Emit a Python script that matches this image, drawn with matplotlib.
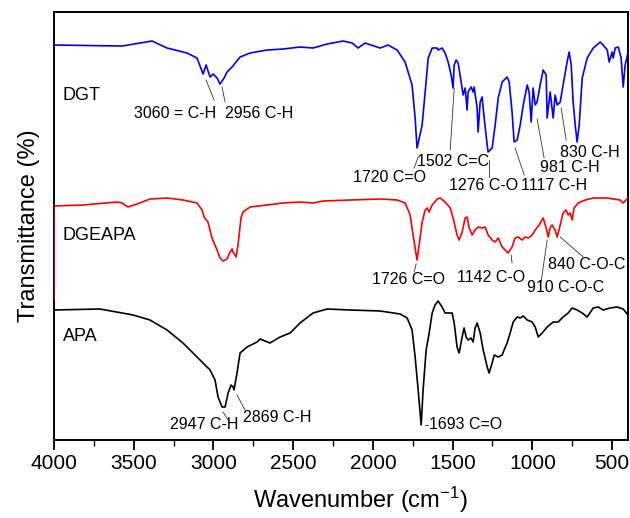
import matplotlib
matplotlib.use('Agg')
import matplotlib.pyplot as plt
from matplotlib.ticker import MultipleLocator

plt.rcParams['font.family'] = ['Liberation Sans', 'DejaVu Sans']
plt.rcParams['mathtext.fontset'] = 'custom'
plt.rcParams['mathtext.rm'] = 'Liberation Sans'
plt.rcParams['mathtext.it'] = 'Liberation Sans'

# DGT spectrum (wavenumber, transmittance a.u., offset)
dgt_wn = [4000, 3573, 3385, 3291, 3166, 3103, 3065, 3046, 3021, 3002, 2977, 2959, 2933, 2915,
          2883, 2833, 2770, 2664, 2563, 2457, 2375, 2287, 2187, 2130, 2093, 2049, 1955, 1905,
          1848, 1798, 1754, 1735, 1723, 1691, 1672, 1653, 1628, 1597, 1591, 1566, 1547, 1528,
          1509, 1497, 1490, 1478, 1465, 1453, 1434, 1421, 1409, 1403, 1384, 1371, 1365, 1346,
          1340, 1327, 1315, 1302, 1283, 1277, 1252, 1233, 1214, 1189, 1158, 1145, 1127, 1114,
          1095, 1076, 1057, 1032, 1020, 1007, 995, 982, 970, 951, 932, 913, 907, 888, 869, 857,
          844, 825, 807, 782, 769, 756, 744, 731, 719, 706, 687, 656, 618, 574, 556, 530, 518,
          499, 493, 480, 461, 443, 430, 418, 400]
dgt_t = [395, 394, 399, 392, 387, 382, 366, 375, 363, 366, 362, 356, 362, 368,
         373, 383, 387, 390, 391, 393, 392, 396, 399, 397, 392, 397, 392, 395,
         390, 378, 355, 322, 292, 315, 348, 382, 392, 392, 390, 392, 387, 378,
         365, 352, 375, 380, 377, 365, 345, 352, 330, 348, 353, 348, 353, 332,
         308, 338, 343, 322, 295, 288, 292, 315, 342, 358, 363, 358, 328, 298,
         300, 315, 335, 355, 348, 318, 352, 335, 338, 355, 370, 365, 322, 348, 322, 345,
         335, 338, 355, 378, 388, 375, 338, 315, 298, 315, 362, 382, 392, 398, 395, 390, 378,
         388, 382, 392, 393, 382, 353, 375, 387]

# DGEAPA spectrum
dgeapa_wn = [4000, 4000, 3818, 3605, 3573, 3536, 3479, 3398, 3291, 3191, 3103, 3071, 3059, 3034,
             3009, 2977, 2959, 2940, 2915, 2896, 2883, 2877, 2858, 2846, 2827, 2814, 2770, 2563,
             2457, 2375, 2312, 2143, 1955, 1848, 1798, 1766, 1748, 1723, 1710, 1691, 1672, 1660,
             1647, 1628, 1597, 1578, 1547, 1515, 1497, 1472, 1459, 1440, 1421, 1409, 1396, 1377,
             1359, 1340, 1315, 1296, 1277, 1252, 1233, 1214, 1189, 1170, 1152, 1127, 1108, 1089,
             1064, 1045, 1026, 1001, 982, 957, 932, 913, 901, 888, 876, 857, 844, 825, 807, 788,
             775, 763, 750, 738, 712, 668, 618, 530, 449, 430, 400]
dgeapa_t = [140, 234, 235, 238, 237, 233, 236, 241, 242, 240, 237, 230, 223, 218,
            202, 190, 182, 179, 181, 188, 191, 188, 183, 195, 222, 228, 233, 237,
            238, 237, 239, 240, 241, 240, 237, 225, 205, 180, 195, 218, 230, 232,
            228, 235, 241, 242, 238, 232, 222, 205, 200, 208, 222, 223, 212, 205,
            210, 213, 212, 213, 205, 200, 198, 202, 193, 190, 187, 193, 202, 203,
            200, 203, 202, 205, 210, 215, 222, 212, 203, 212, 215, 210, 203, 215, 227, 230,
            225, 227, 220, 232, 237, 240, 242, 242, 240, 237, 242]

# APA spectrum
apa_wn = [4000, 3711, 3504, 3398, 3291, 3191, 3084, 3021, 2990, 2971, 2946, 2927, 2908, 2889,
          2877, 2871, 2852, 2833, 2789, 2726, 2708, 2645, 2582, 2519, 2457, 2375, 2287, 2143,
          1955, 1829, 1785, 1754, 1735, 1716, 1697, 1685, 1666, 1647, 1628, 1610, 1591, 1566,
          1547, 1503, 1490, 1472, 1459, 1440, 1428, 1415, 1403, 1384, 1371, 1359, 1346, 1327,
          1308, 1283, 1271, 1252, 1239, 1214, 1189, 1177, 1158, 1139, 1120, 1095, 1076, 1057,
          1032, 1001, 982, 963, 938, 907, 869, 838, 807, 775, 750, 719, 687, 656, 618, 587,
          556, 512, 468, 430, 400]
apa_t = [130, 131, 125, 120, 110, 97, 80, 70, 60, 43, 33, 33, 47, 55,
         53, 50, 67, 87, 93, 98, 101, 97, 103, 107, 117, 127, 131, 130,
         129, 126, 122, 110, 83, 50, 15, 50, 90, 107, 127, 135, 139, 133,
         127, 127, 117, 93, 87, 103, 112, 103, 100, 102, 98, 112, 117, 107,
         90, 73, 67, 77, 85, 83, 85, 90, 97, 107, 118, 123, 122, 124,
         120, 118, 113, 103, 107, 113, 118, 118, 123, 127, 132, 130, 127, 123, 132, 133,
         130, 132, 133, 131, 125]

# sample labels
sample_names = ['DGT', 'DGEAPA', 'APA']
sample_label_pos = [(3944, 345), (3944, 205), (3944, 103)]

# band assignments: text, text anchor (left, centre), leader line start/end
band_text = ['3060 = C-H', '2956 C-H', '1720 C=O', '1502 C=C', '1276 C-O', '1117 C-H',
             '981 C-H', '830 C-H', '1726 C=O', '1142 C-O', '840 C-O-C', '910 C-O-C',
             '2947 C-H', '2869 C-H', '1693 C=O']
band_text_pos = [(3498, 327), (2927, 327), (2124, 263), (1723, 279), (1522, 255), (1070, 255),
                 (951, 273), (825, 288), (2005, 160), (1472, 163), (901, 176), (1032, 152),
                 (3272, 15), (2814, 22), (1647, 15)]
band_leader = [((3046, 360), (2996, 340)), ((2946, 353), (2927, 338)),
               ((1741, 272), (1716, 283)), ((1515, 290), (1490, 352)),
               ((1271, 280), (1271, 263)), ((1108, 292), (1051, 265)),
               ((970, 321), (926, 282)), ((819, 332), (788, 300)),
               ((1729, 176), (1741, 168)), ((1133, 185), (1127, 177)),
               ((825, 203), (681, 183)), ((907, 200), (945, 158)),
               ((2940, 28), (2908, 20)), ((2852, 45), (2802, 30)),
               ((1672, 15), (1653, 15))]

fig = plt.figure(figsize=(6.3, 5.18), dpi=100)
ax = fig.add_axes([0.0857, 0.1506, 0.9111, 0.8262])

ax.plot(dgt_wn, dgt_t, color='#0000ff', lw=1.2, zorder=3)
ax.plot(dgeapa_wn, dgeapa_t, color='#ff0000', lw=1.2, zorder=3)
ax.plot(apa_wn, apa_t, color='black', lw=1.2, zorder=3)

for name, (x, y) in zip(sample_names, sample_label_pos):
    ax.text(x, y, name, fontsize=13, ha='left', va='center')

for txt, (x, y), (p0, p1) in zip(band_text, band_text_pos, band_leader):
    ax.text(x, y, txt, fontsize=11.5, ha='left', va='center')
    ax.plot([p0[0], p1[0]], [p0[1], p1[1]], color='#333333', lw=0.6)

ax.set_xlim(4000, 400)
ax.set_ylim(0, 428)
ax.xaxis.set_major_locator(MultipleLocator(500))
ax.xaxis.set_minor_locator(MultipleLocator(250))
ax.tick_params(axis='x', which='major', direction='out', length=7, width=1.3,
               labelsize=15, pad=3)
ax.tick_params(axis='x', which='minor', direction='out', length=4, width=1.0)
ax.set_yticks([])
for sp in ax.spines.values():
    sp.set_linewidth(1.4)

ax.set_xlabel('Wavenumber (cm$^{-1}$)', fontsize=17)
ax.xaxis.set_label_coords(0.533, -0.105)
ax.set_ylabel('Transmittance (%)', fontsize=17, labelpad=10)

fig.savefig('out.png', dpi=100)
